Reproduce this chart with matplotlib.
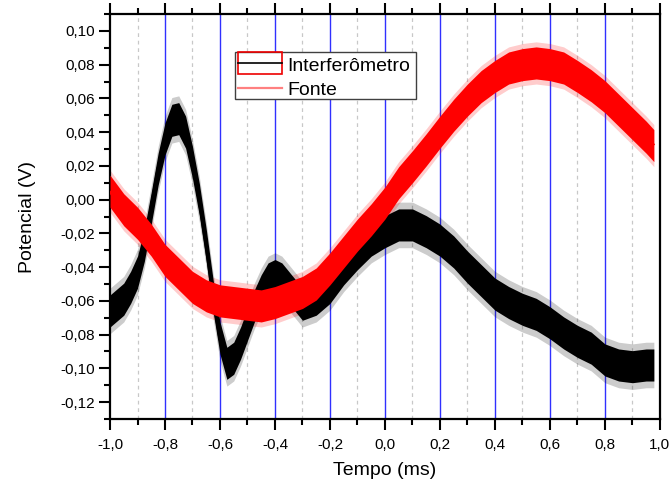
import matplotlib
matplotlib.use("Agg")
import matplotlib.pyplot as plt
import numpy as np
from matplotlib.ticker import MultipleLocator, FuncFormatter
from matplotlib.patches import Rectangle

plt.rcParams['font.family'] = ['Liberation Sans', 'DejaVu Sans']

# Interferometer trace: time (ms) and mean level (V)
t_interf = [-1.0, -0.95, -0.925, -0.9, -0.875, -0.85, -0.825, -0.80, -0.775,
            -0.75, -0.725, -0.70, -0.675, -0.65, -0.625, -0.60, -0.575, -0.55,
            -0.525, -0.50, -0.475, -0.45, -0.425, -0.40, -0.375, -0.35, -0.30,
            -0.25, -0.20, -0.15, -0.10, -0.05, 0.0, 0.05, 0.10, 0.15, 0.20,
            0.25, 0.30, 0.35, 0.40, 0.45, 0.50, 0.55, 0.60, 0.65, 0.70, 0.75,
            0.80, 0.85, 0.90, 0.95, 0.978]
v_interf = [-0.066, -0.059, -0.052, -0.043, -0.027, -0.005, 0.018, 0.036, 0.047,
            0.048, 0.040, 0.022, 0.000, -0.027, -0.057, -0.082, -0.097, -0.094,
            -0.085, -0.074, -0.063, -0.054, -0.047, -0.045, -0.047, -0.052, -0.062,
            -0.059, -0.052, -0.041, -0.032, -0.024, -0.019, -0.015, -0.015, -0.019, -0.024,
            -0.031, -0.040, -0.048, -0.056, -0.061, -0.065, -0.068, -0.073, -0.079, -0.084, -0.088,
            -0.095, -0.098, -0.099, -0.098, -0.098]

# Source trace: time (ms) and mean level (V)
t_fonte = [-1.0, -0.95, -0.9, -0.85, -0.8, -0.75, -0.7, -0.65, -0.6, -0.55, -0.5,
           -0.45, -0.4, -0.35, -0.3, -0.25, -0.2, -0.15, -0.1, -0.05, 0.0, 0.05,
           0.1, 0.15, 0.2, 0.25, 0.3, 0.35, 0.4, 0.45, 0.5, 0.55, 0.6, 0.65, 0.7,
           0.75, 0.8, 0.85, 0.9, 0.95, 0.978]
v_fonte = [0.005, -0.006, -0.014, -0.024, -0.036, -0.044, -0.052, -0.057, -0.060,
           -0.061, -0.062, -0.063, -0.061, -0.058, -0.055, -0.050, -0.041, -0.031,
           -0.021, -0.012, -0.002, 0.010, 0.0195, 0.0295, 0.040, 0.050, 0.059, 0.067,
           0.073, 0.078, 0.080, 0.081, 0.080, 0.078, 0.073, 0.0675, 0.061, 0.053,
           0.045, 0.037, 0.032]

# Noise band half-widths (V): dense core and sparse spike fringe
core_interf, spike_interf = 0.0095, 0.0135
core_fonte, spike_fonte = 0.0095, 0.0125

series_labels = ['Interferômetro', 'Fonte']

x_ticks_major = [-1.0, -0.8, -0.6, -0.4, -0.2, 0.0, 0.2, 0.4, 0.6, 0.8, 1.0]
x_ticks_minor = [-0.9, -0.7, -0.5, -0.3, -0.1, 0.1, 0.3, 0.5, 0.7, 0.9]

fig = plt.figure(figsize=(6.72, 4.88), dpi=100)
ax = fig.add_axes([0.1637, 0.1414, 0.8183, 0.8299])


def draw_trace(t, v, core, spike, color):
    t = np.asarray(t)
    v = np.asarray(v)
    ax.fill_between(t, v - spike, v + spike, color=color, alpha=0.2,
                    linewidth=0, zorder=2)
    ax.fill_between(t, v - core, v + core, color=color, linewidth=0, zorder=3)
    ax.plot(t, v, color=color, linewidth=2.5, solid_capstyle='butt',
            solid_joinstyle='round', zorder=3)


draw_trace(t_interf, v_interf, core_interf, spike_interf, 'black')
draw_trace(t_fonte, v_fonte, core_fonte, spike_fonte, '#ff0000')

# Vertical grid: blue at major ticks, dashed gray at minor ticks
for xv in x_ticks_major[1:-1]:
    ax.axvline(xv, color='#3030ff', linewidth=1.0, zorder=1)
for xv in x_ticks_minor:
    ax.axvline(xv, color='#c8c8c8', linewidth=0.9, linestyle=(0, (3, 3)), zorder=1)

ax.set_xlim(-1.0, 1.0)
ax.set_ylim(-0.13, 0.11)

ax.xaxis.set_major_locator(MultipleLocator(0.2))
ax.xaxis.set_minor_locator(MultipleLocator(0.1))
ax.yaxis.set_major_locator(MultipleLocator(0.02))
ax.yaxis.set_minor_locator(MultipleLocator(0.01))


def comma_fmt(decimals):
    def f(val, pos):
        s = f"{round(val, decimals) + 0.0:.{decimals}f}"
        return s.replace('.', ',')
    return FuncFormatter(f)


ax.xaxis.set_major_formatter(comma_fmt(1))
ax.yaxis.set_major_formatter(comma_fmt(2))

ax.tick_params(which='both', direction='out', top=True, right=False,
               labeltop=False, width=1.5, labelsize=11, colors='black')
ax.tick_params(which='major', length=8, pad=3)
ax.tick_params(which='minor', length=4.5)
ax.tick_params(axis='x', which='major', pad=6)

for sp in ax.spines.values():
    sp.set_linewidth(1.6)
    sp.set_color('black')

ax.set_xlabel('Tempo (ms)', fontsize=14, labelpad=7)
ax.set_ylabel('Potencial (V)', fontsize=14, labelpad=17)

# Legend box drawn in axes coordinates
tr = ax.transAxes
ax.add_patch(Rectangle((0.2273, 0.7901), 0.3291, 0.1168, transform=tr,
                       facecolor='white', edgecolor='#404040', linewidth=1.0,
                       zorder=6))
ax.add_patch(Rectangle((0.2320, 0.8519), 0.0815, 0.0541, transform=tr,
                       fill=False, edgecolor='#ee0000', linewidth=1.2, zorder=7))
ax.plot([0.2327, 0.3133], [0.8790, 0.8790], transform=tr, color='black',
        linewidth=1.2, zorder=7)
ax.plot([0.2327, 0.3133], [0.8180, 0.8180], transform=tr, color='#ff8080',
        linewidth=1.6, zorder=7)
ax.text(0.3218, 0.8600, series_labels[0], transform=tr, fontsize=14,
        va='baseline', ha='left', zorder=8)
ax.text(0.3218, 0.8000, series_labels[1], transform=tr, fontsize=14,
        va='baseline', ha='left', zorder=8)

fig.savefig('out.png', dpi=100)
